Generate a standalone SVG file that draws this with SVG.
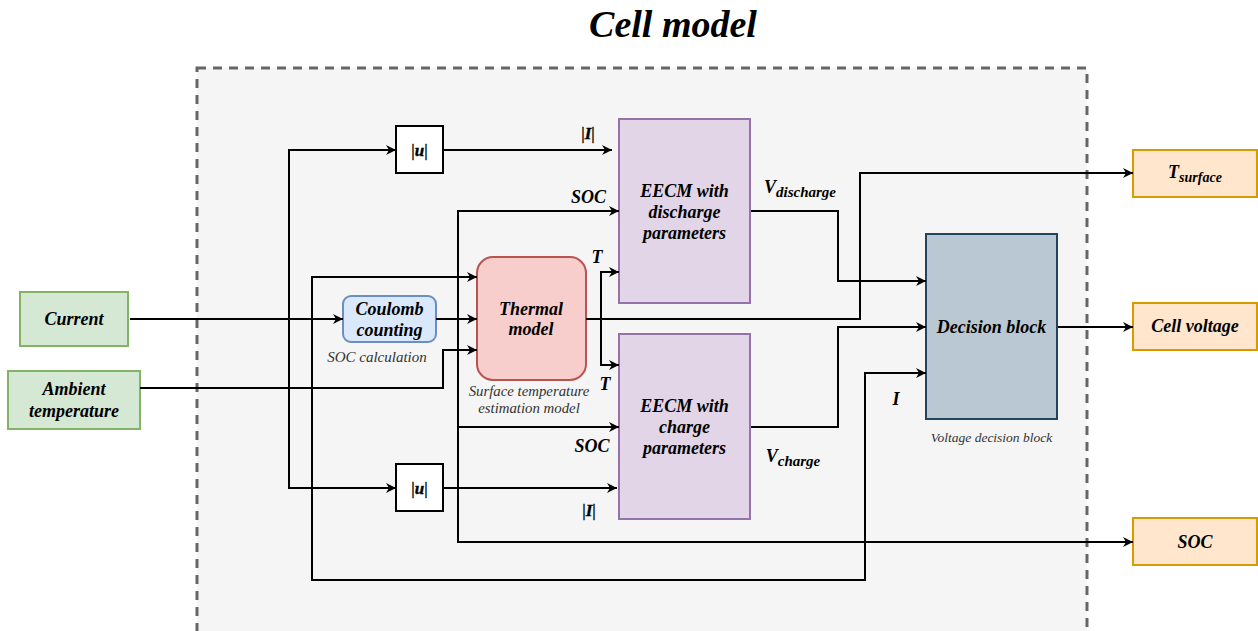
<svg xmlns="http://www.w3.org/2000/svg" width="1258" height="631" viewBox="0 0 1258 631">
<style>
.t{font-family:"Liberation Serif",serif;font-weight:bold;font-style:italic;font-size:18px;text-anchor:middle;fill:#000}
.cap{font-family:"Liberation Serif",serif;font-style:italic;text-anchor:middle;fill:#333}
.c path{fill:none;stroke:#000;stroke-width:2;marker-end:url(#arr)}
.sub{font-size:14px}
.abs{font-family:"Liberation Serif",serif;font-size:17px;text-anchor:middle;fill:#000;stroke:#000;stroke-width:0.4}
</style>
<defs>
<marker id="arr" viewBox="0 0 10 10" refX="10" refY="5" markerWidth="11" markerHeight="10" markerUnits="userSpaceOnUse" orient="auto"><path d="M0,0 L10,5 L0,10 L3,5 z" fill="#000"/></marker>
</defs>
<rect width="1258" height="631" fill="#fff"/>
<text x="673" y="37" class="t" style="font-size:38px">Cell model</text>
<g id="container"><rect x="197" y="68" width="890" height="600" fill="#f5f5f5" stroke="#666" stroke-width="3" stroke-dasharray="9 7"/></g>

<g id="current"><rect x="20" y="292" width="108" height="54" fill="#d5e8d4" stroke="#82b366" stroke-width="2"/><text x="74" y="325" class="t">Current</text></g>
<g id="ambient"><rect x="8" y="371" width="132" height="58" fill="#d5e8d4" stroke="#82b366" stroke-width="2"/><text x="74" y="395" class="t">Ambient</text><text x="74" y="417" class="t">temperature</text></g>

<g id="coulomb"><rect x="343" y="296" width="93" height="46" rx="8" fill="#dae8fc" stroke="#6c8ebf" stroke-width="2"/><text x="389.5" y="315" class="t">Coulomb</text><text x="389.5" y="336" class="t">counting</text><text x="377" y="362" class="cap" style="font-size:15px">SOC calculation</text></g>

<g id="thermal"><rect x="477" y="257" width="109" height="123" rx="16" fill="#f8cecc" stroke="#b85450" stroke-width="2"/><text x="531" y="315" class="t">Thermal</text><text x="531" y="335" class="t">model</text><text x="529" y="396" class="cap" style="font-size:14.8px">Surface temperature</text><text x="529" y="413" class="cap" style="font-size:14.8px">estimation model</text></g>

<g id="abs-top"><rect x="396" y="126" width="47" height="47" fill="#fff" stroke="#000" stroke-width="2"/><text x="419.5" y="156" class="abs">|<tspan font-weight="bold" font-style="italic">u</tspan>|</text></g>
<g id="abs-bottom"><rect x="396" y="464" width="47" height="47" fill="#fff" stroke="#000" stroke-width="2"/><text x="419.5" y="494" class="abs">|<tspan font-weight="bold" font-style="italic">u</tspan>|</text></g>

<g id="eecm-discharge"><rect x="619" y="119" width="131" height="184" fill="#e1d5e7" stroke="#9673a6" stroke-width="2"/><text x="684.5" y="197" class="t">EECM with</text><text x="684.5" y="218" class="t">discharge</text><text x="684.5" y="239" class="t">parameters</text></g>
<g id="eecm-charge"><rect x="619" y="334" width="131" height="185" fill="#e1d5e7" stroke="#9673a6" stroke-width="2"/><text x="684.5" y="412" class="t">EECM with</text><text x="684.5" y="433" class="t">charge</text><text x="684.5" y="454" class="t">parameters</text></g>

<g id="decision"><rect x="926" y="234" width="131" height="185" fill="#bac8d3" stroke="#23445d" stroke-width="2"/><text x="991.5" y="333" class="t">Decision block</text><text x="991.5" y="442" class="cap" style="font-size:13.5px">Voltage decision block</text></g>

<g id="out-tsurface"><rect x="1133" y="150" width="124" height="47" fill="#ffe6cc" stroke="#d79b00" stroke-width="2"/><text x="1195" y="178" class="t">T<tspan class="sub" dy="4">surface</tspan></text></g>
<g id="out-voltage"><rect x="1133" y="303" width="124" height="47" fill="#ffe6cc" stroke="#d79b00" stroke-width="2"/><text x="1195" y="332" class="t">Cell voltage</text></g>
<g id="out-soc"><rect x="1133" y="518" width="124" height="47" fill="#ffe6cc" stroke="#d79b00" stroke-width="2"/><text x="1195" y="548" class="t">SOC</text></g>

<g id="connectors" class="c">
<path d="M130,319 H343"/>
<path d="M289,319 V150 H396"/>
<path d="M289,319 V488 H396"/>
<path d="M312,319 V277 H477"/>
<path d="M312,319 V580 H865 V373 H926"/>
<path d="M436,319 H477"/>
<path d="M458,319 V211 H619"/>
<path d="M458,319 V427 H619"/>
<path d="M458,319 V542 H1133"/>
<path d="M140,388 H443 V350 H477"/>
<path d="M586,319 H860 V173 H1133"/>
<path d="M601,319 V272 H619"/>
<path d="M601,319 V365 H619"/>
<path d="M443,150 H612"/>
<path d="M443,488 H617"/>
<path d="M751,211 H838 V281 H926"/>
<path d="M751,427 H838 V327 H926"/>
<path d="M1058,327 H1133"/>
</g>

<g id="labels">
<text x="588" y="139" class="abs">|<tspan font-weight="bold" font-style="italic">I</tspan>|</text>
<text x="588.5" y="203" class="t">SOC</text>
<text x="597" y="263" class="t">T</text>
<text x="605" y="390" class="t">T</text>
<text x="592" y="452" class="t">SOC</text>
<text x="589" y="516" class="abs">|<tspan font-weight="bold" font-style="italic">I</tspan>|</text>
<text x="896" y="405" class="t">I</text>
<text x="800" y="193" class="t">V<tspan class="sub" dy="4" style="font-size:15px">discharge</tspan></text>
<text x="793" y="462" class="t">V<tspan class="sub" dy="4" style="font-size:15px">charge</tspan></text>
</g>
</svg>
